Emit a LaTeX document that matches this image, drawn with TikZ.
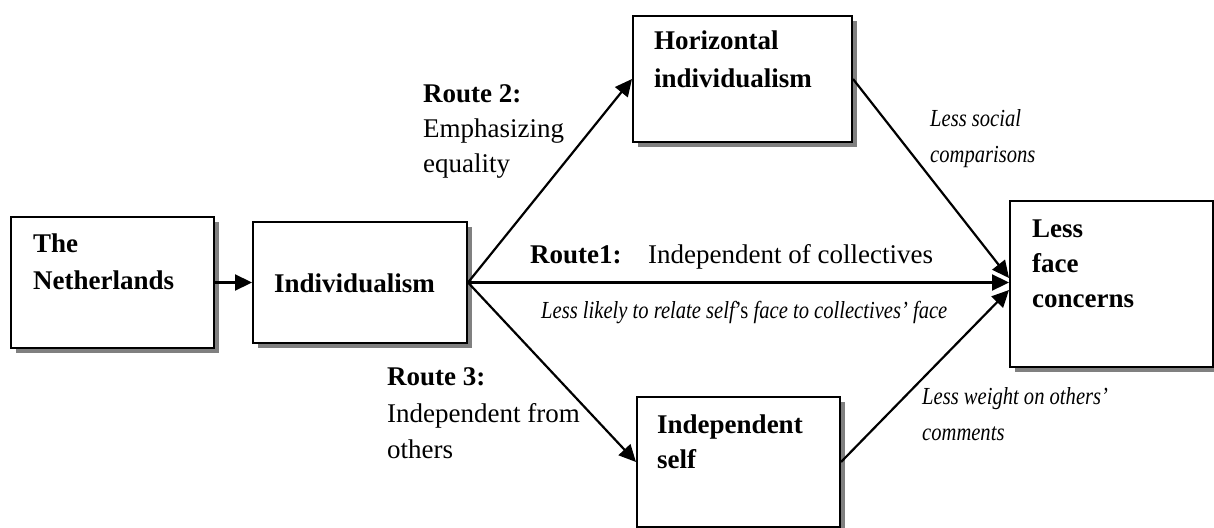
\documentclass[tikz,border=0pt]{standalone}
\usepackage{fontspec}
\setmainfont{Liberation Serif}
\newfontfamily\slimserif[FakeStretch=0.84]{Liberation Serif}
\usetikzlibrary{arrows.meta,shadows,calc}
\definecolor{shadowgray}{RGB}{128,128,128}
\tikzset{
  box/.style={draw, line width=2pt, fill=white, inner sep=0pt,
    drop shadow={shadow xshift=5pt, shadow yshift=-5pt, fill=shadowgray, opacity=1}},
  txt/.style={inner sep=0pt, anchor=base west, font=\fontsize{27}{32}\selectfont},
  boxtxt/.style={txt, font=\fontsize{27}{32}\selectfont\bfseries},
  note/.style={inner sep=0pt, anchor=base west, font=\fontsize{24.5}{29}\selectfont\slimserif\itshape},
  link/.style={line width=2.2pt, -{Triangle[length=17pt,width=16pt]}}
}
\begin{document}
\begin{tikzpicture}[x=1pt,y=-1pt]
\useasboundingbox (0,0) rectangle (1214,527);

% boxes
\node[box, minimum width=203pt, minimum height=131pt] (neth)  at (112.5,282.5) {};
\node[box, minimum width=214pt, minimum height=121pt] (indiv) at (360,282.5) {};
\node[box, minimum width=219pt, minimum height=126pt] (hi)    at (742.5,79) {};
\node[box, minimum width=203pt, minimum height=130pt] (is)    at (738.5,462) {};
\node[box, minimum width=203pt, minimum height=166pt] (lfc)   at (1111.5,284) {};

% box texts
\node[boxtxt] (neth1) at (33,252) {The};
\node[boxtxt] (neth2) at (33,289) {Netherlands};
\node[boxtxt] (ind1) at (274,292) {Individualism};
\node[boxtxt] (hi1) at (654,50) {Horizontal};
\node[boxtxt] (hi2) at (654,87) {individualism};
\node[boxtxt] (is1) at (657,433) {Independent};
\node[boxtxt] (is2) at (657,468) {self};
\node[boxtxt] (lfc1) at (1032,237) {Less};
\node[boxtxt] (lfc2) at (1032,272) {face};
\node[boxtxt] (lfc3) at (1032,307) {concerns};

% end points on the outcome box
\coordinate (lfcup) at ([yshift=6pt]lfc.west);
\coordinate (lfcdn) at ([yshift=-6pt]lfc.west);

% connectors
\draw[link] (neth.east) -- (indiv.west);
\draw[link] (indiv.east) -- (hi.west);
\draw[link] (indiv.east) -- (is.west);
\draw[link] (indiv.east) -- (indiv.east -| lfc.west);
\draw[link] (hi.east) -- (lfcup);
\draw[link] (is.east) -- (lfcdn);

% route labels
\node[boxtxt] (r2a) at (423,102) {Route 2:};
\node[txt] (r2b) at (423,137) {Emphasizing};
\node[txt] (r2c) at (423,172) {equality};

\node[boxtxt] (r1a) at (530,263) {Route1:};
\node[txt] (r1b) at (648,263) {Independent of collectives};
\node[note] (r1c) at (541,318) {Less likely to relate self\upshape’s \itshape face to collectives’ face};

\node[boxtxt] (r3a) at (387,385) {Route 3:};
\node[txt] (r3b) at (387,422) {Independent from};
\node[txt] (r3c) at (387,458) {others};

% path notes
\node[note] (n1a) at (930,126) {Less social};
\node[note] (n1b) at (930,162) {comparisons};
\node[note] (n2a) at (922,404) {Less weight on others’};
\node[note] (n2b) at (922,440) {comments};
\end{tikzpicture}
\end{document}
